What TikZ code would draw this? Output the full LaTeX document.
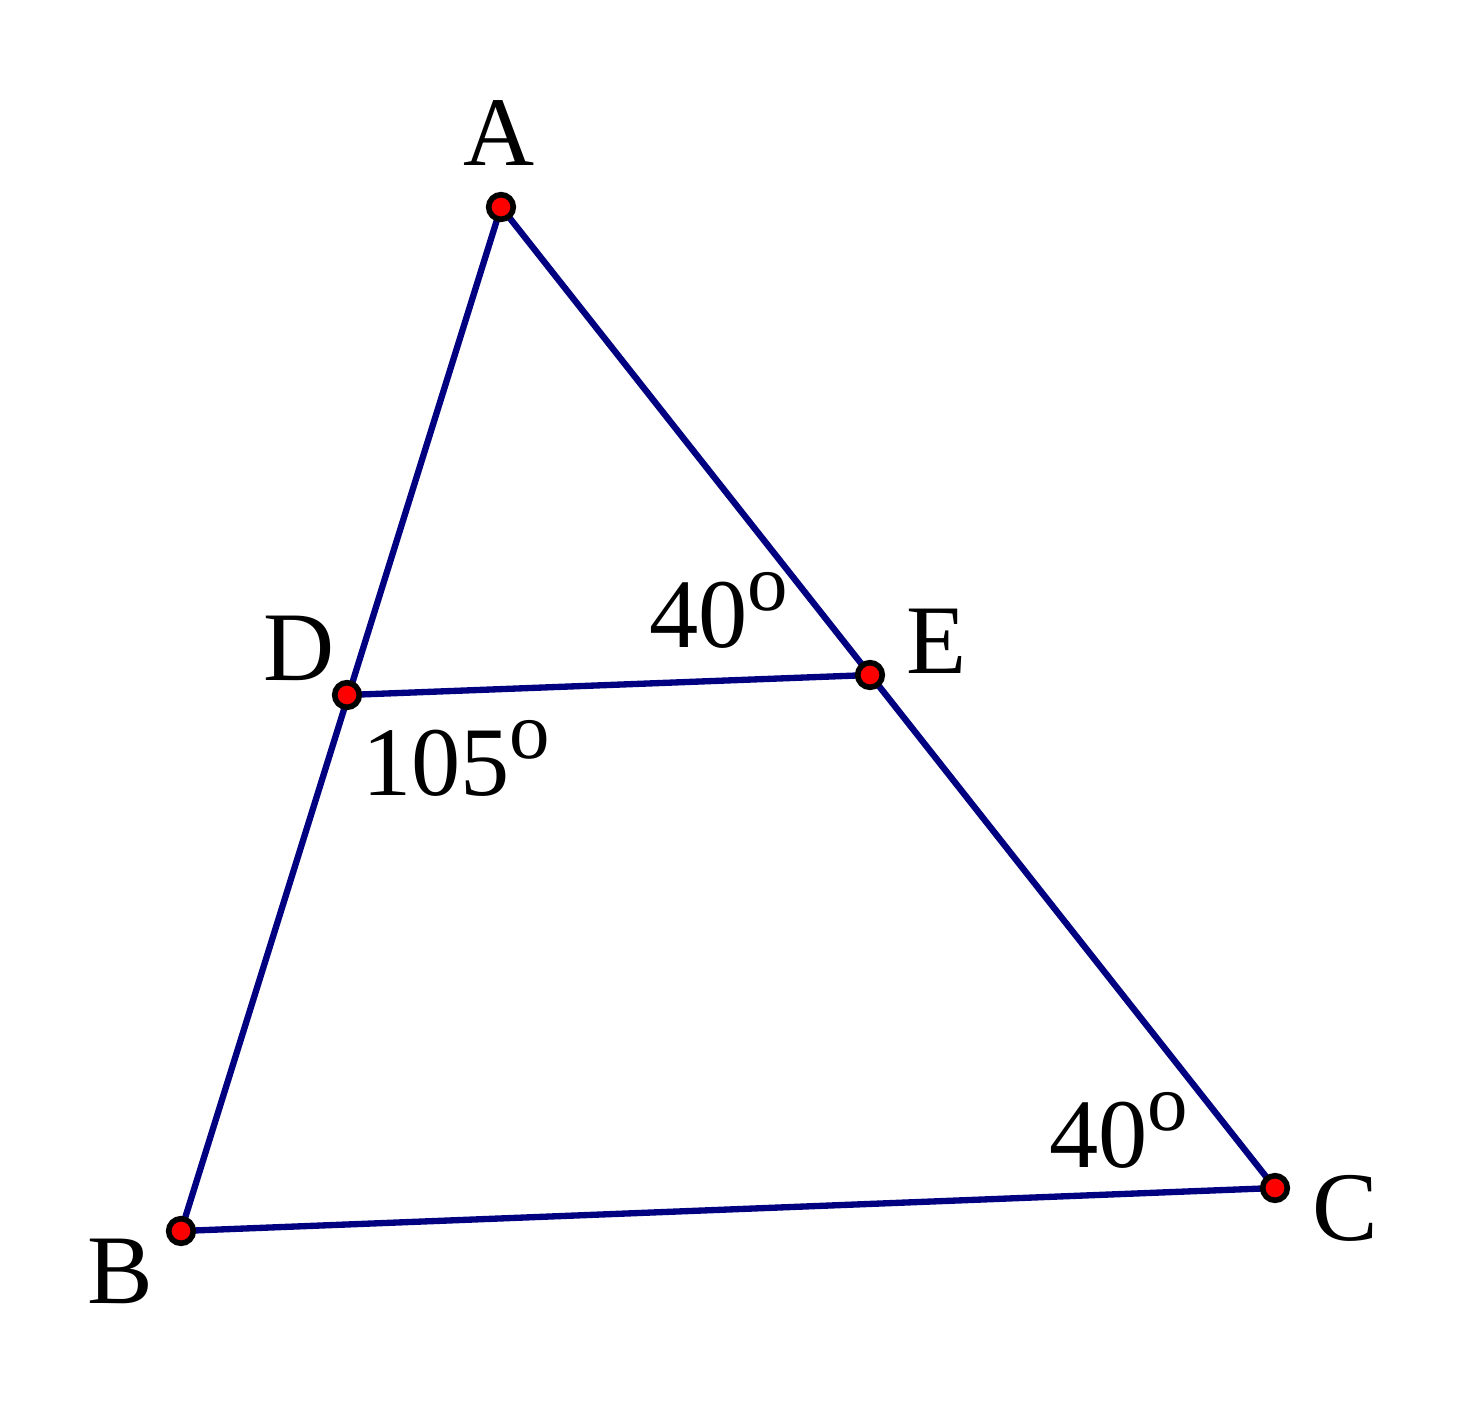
\documentclass[tikz,border=0pt]{standalone}
\usepackage{fontspec}
\setmainfont{Liberation Serif}
\definecolor{navy}{RGB}{0,0,128}
\tikzset{
	side/.style={draw=navy,line width=3.6pt},
	dot/.style={circle,draw=black,fill=red,line width=3.2pt,minimum size=14pt,inner sep=0pt},
	lbl/.style={inner sep=0pt,anchor=base,font=\fontsize{56}{60}\selectfont},
	ang/.style={lbl,anchor=base west},
}
\newcommand{\dgr}{\raisebox{21pt}{\fontsize{46}{50}\selectfont o}}
\begin{document}
\begin{tikzpicture}
	\useasboundingbox (0,0) rectangle (29.52,-28.14);
	\begin{scope}

	\coordinate (A) at (10.02,-4.14);
	\coordinate (B) at (3.62,-24.62);
	\coordinate (C) at (25.50,-23.76);
	\coordinate (D) at (6.94,-13.90);
	\coordinate (E) at (17.40,-13.50);

	\draw [side] (A) -- (B) -- (C) -- cycle;
	\draw [side] (D) -- (E);

	\foreach \p in {A,B,C,D,E}
	{
		\node [dot] (p\p) at (\p) {};
	}

	\foreach \p/\x/\y in {A/9.98/-3.30, D/5.98/-13.60, E/18.74/-13.46, B/2.40/-26.06, C/26.90/-24.80}
	{
		\node [lbl] (l\p) at (\x,\y) {\p};
	}

	\node [ang] (aE) at (12.98,-12.94) {40\dgr};
	\node [ang] (aD) at (7.24,-15.90) {105\dgr};
	\node [ang] (aC) at (20.98,-23.34) {40\dgr};
	\end{scope}

\end{tikzpicture}
\end{document}
